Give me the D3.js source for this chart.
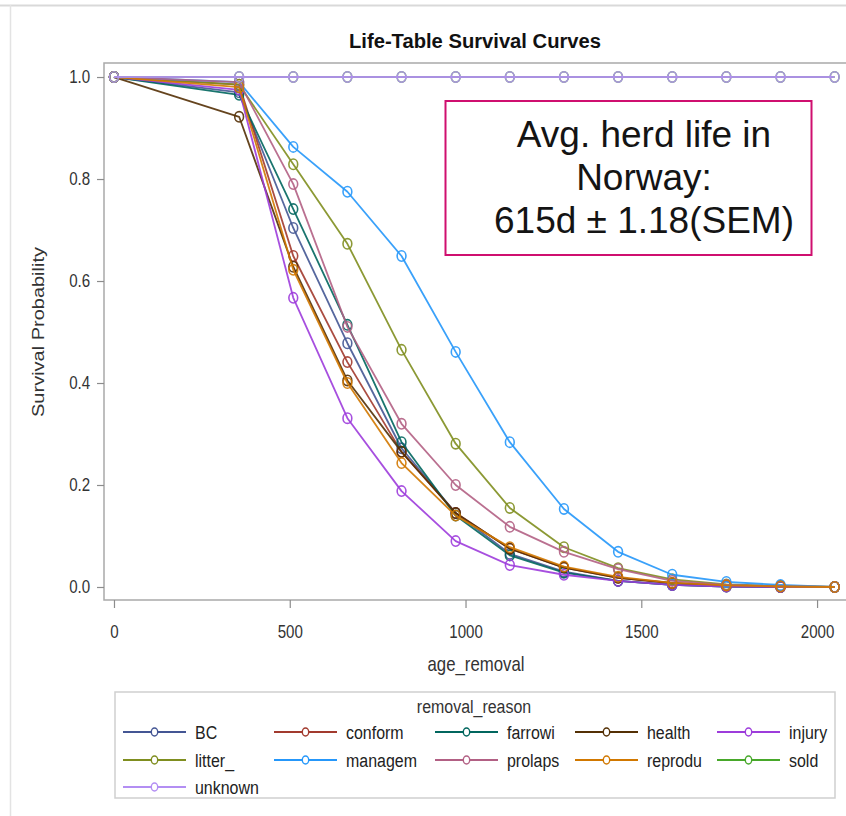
<!DOCTYPE html>
<html>
<head>
<meta charset="utf-8">
<script src="https://cdn.jsdelivr.net/npm/d3@7"></script>
<style>
  html, body { margin: 0; padding: 0; background: #fff; }
  svg { display: block; font-family: "Liberation Sans", Arial, sans-serif; }
</style>
</head>
<body>
<svg id="chart" width="846" height="816"></svg>
<script>
// ---------- data ----------
const times = [0, 356, 510, 664, 818, 972, 1126, 1280, 1434, 1588, 1742, 1896, 2050];
const seriesNames = ["BC", "conform", "farrowi", "health", "injury", "litter_", "managem", "prolaps", "reprodu", "sold", "unknown"];
const seriesColors = ["#445694", "#A23A2E", "#01665E", "#543005", "#9D3CDB", "#7F8E1F", "#2597FA", "#B26084", "#D17800", "#47A82A", "#B38EF3"];
const BC      = [1, 0.970, 0.704, 0.478, 0.272, 0.145, 0.065, 0.030, 0.012, 0.004, 0.001, 0.000, 0];
const conform = [1, 0.985, 0.649, 0.441, 0.265, 0.145, 0.075, 0.038, 0.018, 0.007, 0.002, 0.000, 0];
const farrowi = [1, 0.965, 0.741, 0.514, 0.284, 0.140, 0.062, 0.028, 0.012, 0.004, 0.001, 0.000, 0];
const health  = [1, 0.922, 0.628, 0.405, 0.265, 0.145, 0.075, 0.038, 0.018, 0.008, 0.003, 0.001, 0];
const injury  = [1, 0.975, 0.567, 0.331, 0.188, 0.090, 0.043, 0.024, 0.012, 0.004, 0.001, 0.000, 0];
const litter_ = [1, 0.985, 0.829, 0.673, 0.465, 0.281, 0.155, 0.078, 0.037, 0.015, 0.005, 0.002, 0];
const managem = [1, 0.990, 0.863, 0.775, 0.649, 0.461, 0.284, 0.153, 0.069, 0.024, 0.010, 0.004, 0];
const prolaps = [1, 0.990, 0.790, 0.510, 0.320, 0.200, 0.118, 0.069, 0.035, 0.012, 0.004, 0.001, 0];
const reprodu = [1, 0.980, 0.622, 0.400, 0.243, 0.140, 0.078, 0.040, 0.020, 0.008, 0.003, 0.001, 0];
const sold    = [1, 1, 1, 1, 1, 1, 1, 1, 1, 1, 1, 1, 1];
const unknown = [1, 1, 1, 1, 1, 1, 1, 1, 1, 1, 1, 1, 1];
const seriesValues = [BC, conform, farrowi, health, injury, litter_, managem, prolaps, reprodu, sold, unknown];
const xTicks = [0, 500, 1000, 1500, 2000];
const yTicks = [0, 0.2, 0.4, 0.6, 0.8, 1.0];
const titleText = "Life-Table Survival Curves";
const xTitle = "age_removal";
const yTitle = "Survival Probability";
const legendTitle = "removal_reason";
const noteLines = ["Avg. herd life in", "Norway:", "615d \u00B1 1.18(SEM)"];

// ---------- layout ----------
const SQ = 0.84; // horizontal condensation of chart text
const svg = d3.select("#chart");
svg.append("rect").attr("width", 846).attr("height", 816).attr("fill", "#fff");

// outer frame lines of the graph image
svg.append("line").attr("x1", 0).attr("x2", 846).attr("y1", 5.5).attr("y2", 5.5)
  .attr("stroke", "#d9d9d9").attr("stroke-width", 2);
svg.append("line").attr("x1", 10.5).attr("x2", 10.5).attr("y1", 5).attr("y2", 816)
  .attr("stroke", "#e3e3e3").attr("stroke-width", 1.5);

const plot = { left: 104, right: 848, top: 63, bottom: 600 };
const x = d3.scaleLinear().domain([-28.4, 2088]).range([plot.left, plot.right]);
const y = d3.scaleLinear().domain([-0.0255, 1.0275]).range([plot.bottom, plot.top]);

function placeText(g, tx, ty, str, opts) {
  const t = g.append("text")
    .attr("transform", `translate(${tx},${ty}) scale(${opts.sx || 1},1)` + (opts.rotate ? ` rotate(${opts.rotate})` : ""))
    .attr("text-anchor", opts.anchor || "start")
    .attr("font-size", opts.size)
    .attr("font-weight", opts.weight || "normal")
    .attr("fill", opts.fill || "#222")
    .text(str);
  if (opts.dy) t.attr("dy", opts.dy);
  return t;
}

// title
svg.append("text")
  .attr("x", 475).attr("y", 48)
  .attr("text-anchor", "middle")
  .attr("font-size", 19.5).attr("font-weight", "bold").attr("fill", "#111")
  .attr("textLength", 252).attr("lengthAdjust", "spacingAndGlyphs")
  .text(titleText);

// plot frame
svg.append("rect")
  .attr("x", plot.left).attr("y", plot.top)
  .attr("width", plot.right - plot.left).attr("height", plot.bottom - plot.top)
  .attr("fill", "none").attr("stroke", "#a9a9a9").attr("stroke-width", 1.5);

// axes
const xAxis = svg.append("g").attr("transform", `translate(0,${plot.bottom})`)
  .call(d3.axisBottom(x).tickValues(xTicks).tickFormat(d3.format("d")).tickSize(8).tickPadding(17));
const yAxis = svg.append("g").attr("transform", `translate(${plot.left},0)`)
  .call(d3.axisLeft(y).tickValues(yTicks).tickFormat(d3.format(".1f")).tickSize(7).tickPadding(9.5));
[xAxis, yAxis].forEach(a => {
  a.select(".domain").remove();
  a.selectAll(".tick line").attr("stroke", "#8c8c8c").attr("stroke-width", 1.2);
  a.selectAll(".tick text")
    .attr("font-size", 18)
    .attr("fill", "#333")
    .attr("font-family", "'Liberation Sans', Arial, sans-serif")
    .attr("transform", `scale(${SQ},1)`);
});

// axis titles
placeText(svg, 476, 671, xTitle, { anchor: "middle", size: 20, sx: SQ, fill: "#333" });
placeText(svg, 44, 332, yTitle, { anchor: "middle", size: 20, sx: SQ, rotate: -90, fill: "#333" });

// series
const line = d3.line().x((d, i) => x(times[i])).y(d => y(d));
const gSeries = svg.append("g");
seriesValues.forEach((vals, si) => {
  const col = seriesColors[si];
  const g = gSeries.append("g");
  g.append("path").datum(vals)
    .attr("d", line)
    .attr("fill", "none").attr("stroke", col).attr("stroke-width", 1.8)
    .attr("stroke-linejoin", "round").attr("stroke-opacity", 0.9);
  g.selectAll("ellipse").data(vals).join("ellipse")
    .attr("cx", (d, i) => x(times[i])).attr("cy", d => y(d))
    .attr("rx", 4.4).attr("ry", 5.2)
    .attr("fill", "none").attr("stroke", col).attr("stroke-width", 1.6).attr("stroke-opacity", 0.9);
});

// annotation box
svg.append("rect").attr("x", 445.5).attr("y", 101).attr("width", 366).attr("height", 154)
  .attr("fill", "#fff").attr("stroke", "#CF0F6F").attr("stroke-width", 2);
noteLines.forEach((s, i) => {
  svg.append("text").attr("x", 644).attr("y", 147 + i * 43.2)
    .attr("text-anchor", "middle").attr("font-size", 37).attr("fill", "#141414")
    .attr("font-family", "'Liberation Sans', Arial, sans-serif")
    .text(s);
});

// legend
const lg = svg.append("g");
lg.append("rect").attr("x", 115).attr("y", 692).attr("width", 720).attr("height", 106)
  .attr("fill", "none").attr("stroke", "#cfcfcf").attr("stroke-width", 1.5);
placeText(lg, 474, 713, legendTitle, { anchor: "middle", size: 19, sx: SQ, fill: "#333" });
const colX = [123, 274, 435, 575, 717];
const rowY = [732, 760, 787];
seriesNames.forEach((name, i) => {
  const cx = colX[i % 5], cy = rowY[Math.floor(i / 5)];
  const col = seriesColors[i];
  lg.append("line").attr("x1", cx).attr("x2", cx + 63).attr("y1", cy).attr("y2", cy)
    .attr("stroke", col).attr("stroke-width", 1.8);
  lg.append("ellipse").attr("cx", cx + 31.5).attr("cy", cy).attr("rx", 3.2).attr("ry", 4)
    .attr("fill", "#fff").attr("stroke", col).attr("stroke-width", 1.4);
  placeText(lg, cx + 72, cy, name, { size: 19, sx: SQ, dy: "0.35em", fill: "#222" });
});
</script>
</body>
</html>
